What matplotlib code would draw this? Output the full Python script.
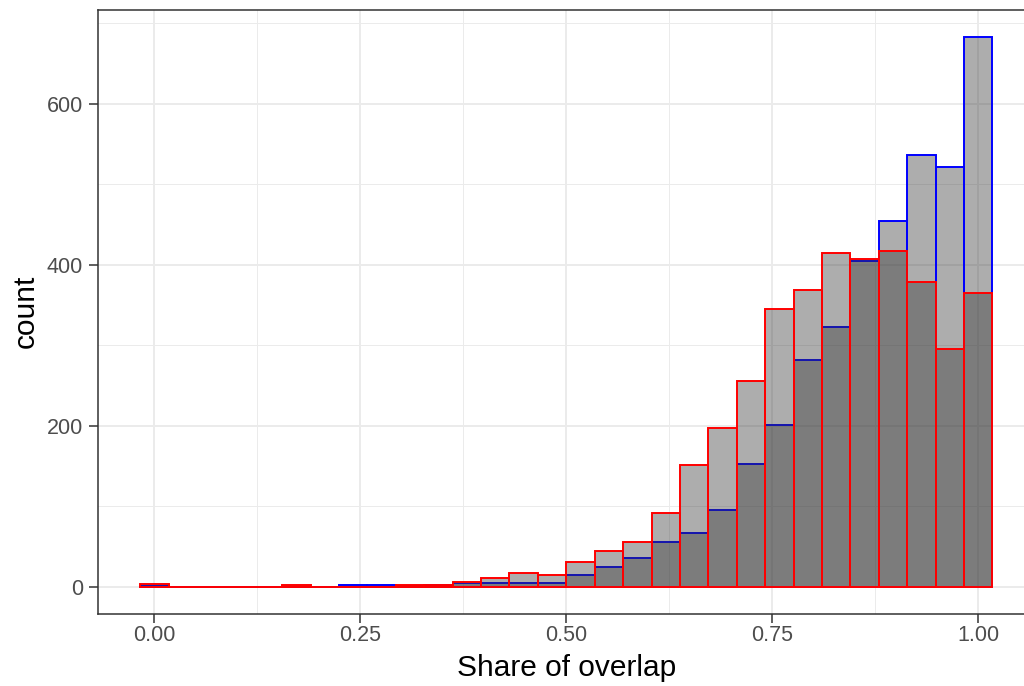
import numpy as np
import matplotlib
matplotlib.use("Agg")
import matplotlib.pyplot as plt
from matplotlib.ticker import FixedLocator

plt.rcParams["font.family"] = ["Liberation Sans", "DejaVu Sans"]

# 30 bins centred on 0, 1/29, ..., 1
n_bins = 30
bin_width = 1 / (n_bins - 1)
bin_centers = np.arange(n_bins) * bin_width

blue_counts = [1, 0, 0, 0, 0, 0, 0, 2, 2, 1, 2, 4, 5, 4, 5,
               14, 24, 35, 55, 67, 95, 152, 201, 281, 323, 405, 454, 537, 522, 683]
red_counts = [3, 0, 0, 0, 0, 2, 0, 0, 0, 2, 2, 6, 10, 17, 14,
              30, 44, 55, 91, 151, 197, 256, 345, 369, 414, 407, 417, 378, 295, 365]

x_ticks = [0.0, 0.25, 0.5, 0.75, 1.0]
x_tick_labels = ["0.00", "0.25", "0.50", "0.75", "1.00"]
y_ticks = [0, 200, 400, 600]
x_title = "Share of overlap"
y_title = "count"

fill = (0.2, 0.2, 0.2, 0.4)
grey20 = "#333333"
grey30 = "#4D4D4D"
grid_col = "#EBEBEB"

fig = plt.figure(figsize=(10.24, 6.86), dpi=100)
ax = fig.add_axes([97.6 / 1024, 72 / 686, (1035 - 97.6) / 1024, (614 - 9.6) / 686])

ax.bar(bin_centers, blue_counts, width=bin_width, facecolor=fill,
       edgecolor="#0000FF", linewidth=1.4, zorder=2)
ax.bar(bin_centers, red_counts, width=bin_width, facecolor=fill,
       edgecolor="#FF0000", linewidth=1.4, zorder=3)

# ggplot-style 5% expansion on both axes
lo, hi = -bin_width / 2, 1 + bin_width / 2
pad = 0.05 * (hi - lo)
ax.set_xlim(lo - pad, hi + pad)
ymax = max(max(blue_counts), max(red_counts))
ax.set_ylim(-0.05 * ymax, 1.05 * ymax)

ax.xaxis.set_major_locator(FixedLocator(x_ticks))
ax.set_xticklabels(x_tick_labels)
ax.yaxis.set_major_locator(FixedLocator(y_ticks))
ax.xaxis.set_minor_locator(FixedLocator([0.125, 0.375, 0.625, 0.875]))
ax.yaxis.set_minor_locator(FixedLocator([100, 300, 500, 700]))

ax.set_axisbelow(True)
ax.grid(which="major", color=grid_col, linewidth=1.4)
ax.grid(which="minor", color=grid_col, linewidth=0.7)

for s in ax.spines.values():
    s.set_color(grey20)
    s.set_linewidth(1.1)

ax.tick_params(which="major", length=6.5, width=1.1, color=grey20,
               labelcolor=grey30, labelsize=15.5)
ax.tick_params(axis="x", which="major", pad=1.5)
ax.tick_params(axis="y", which="major", pad=4)
ax.tick_params(which="minor", length=0)

ax.set_xlabel(x_title, fontsize=21.5, color="black", labelpad=6)
ax.set_ylabel(y_title, fontsize=21.5, color="black", labelpad=5)

fig.savefig("out.png", dpi=100)
